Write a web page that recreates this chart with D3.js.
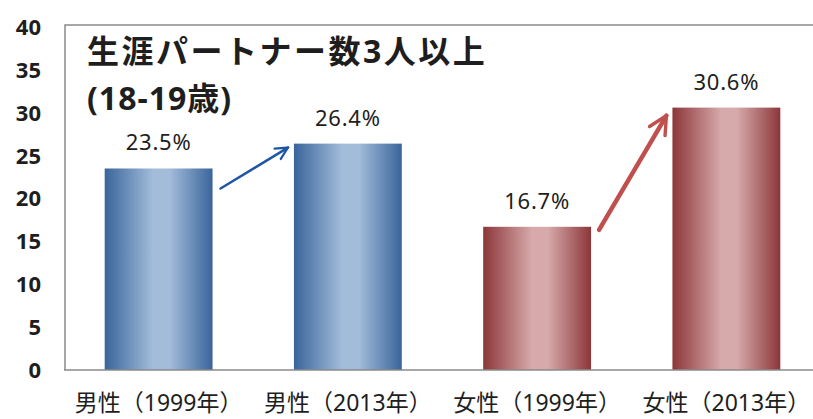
<!DOCTYPE html>
<html>
<head>
<meta charset="utf-8">
<script src="https://cdn.jsdelivr.net/npm/d3@7"></script>
<style>
  body { margin: 0; background: #fff; }
  text { font-family: "Noto Sans", "Noto Sans CJK JP", sans-serif; fill: #1e1e1e; }
</style>
</head>
<body>
<div id="chart"></div>
<script>
const categories = ["男性（1999年）", "男性（2013年）", "女性（1999年）", "女性（2013年）"];
const values = [23.5, 26.4, 16.7, 30.6];
const labels = ["23.5%", "26.4%", "16.7%", "30.6%"];
const groups = ["m", "m", "f", "f"];
const yTicks = [0, 5, 10, 15, 20, 25, 30, 35, 40];

const width = 813, height = 419;
const mLeft = 64, mRight = 821, mTop = 27, mBottom = 370;

const svg = d3.select("#chart")
  .append("svg")
  .attr("width", width)
  .attr("height", height);

const x = d3.scaleBand().domain(categories).range([mLeft, mRight]).paddingInner(0.43).paddingOuter(0.215);
const y = d3.scaleLinear().domain([0, 40]).range([mBottom, mTop]);

const defs = svg.append("defs");
const grads = { m: ["#3a659b", "#a3bcda"], f: ["#8c3639", "#d6a9aa"] };
for (let k in grads) {
  const g = defs.append("linearGradient").attr("id", "g" + k).attr("x1", 0).attr("x2", 1).attr("y1", 0).attr("y2", 0);
  g.append("stop").attr("offset", "0%").attr("stop-color", grads[k][0]);
  g.append("stop").attr("offset", "45%").attr("stop-color", grads[k][1]);
  g.append("stop").attr("offset", "60%").attr("stop-color", grads[k][1]);
  g.append("stop").attr("offset", "100%").attr("stop-color", grads[k][0]);
}
for (let k of ["m", "f"]) {
  defs.append("marker")
    .attr("id", "a" + k)
    .attr("viewBox", "0 0 10 10")
    .attr("refX", 9).attr("refY", 5)
    .attr("markerWidth", k == "m" ? 6 : 5).attr("markerHeight", k == "m" ? 6 : 5)
    .attr("orient", "auto")
    .append("path")
    .attr("d", "M1,1 L9,5 L1,9")
    .attr("fill", "none")
    .attr("stroke", k == "m" ? "#1f56a4" : "#c0504d")
    .attr("stroke-width", 1.5)
    .attr("stroke-linecap", "round");
}

// plot area frame
svg.append("path")
  .attr("d", `M${mLeft + 1},${mBottom} V${mTop - 2} H${width}`)
  .attr("fill", "none")
  .attr("stroke", "#8a8a8a")
  .attr("stroke-width", 1.5);

// y axis labels
svg.append("g")
  .selectAll("text")
  .data(yTicks)
  .join("text")
  .attr("x", 41)
  .attr("y", d => y(d))
  .attr("dy", "0.36em")
  .attr("text-anchor", "end")
  .attr("font-size", 22)
  .attr("font-weight", "bold")
  .text(d => d);

// bars
svg.append("g")
  .selectAll("rect")
  .data(values)
  .join("rect")
  .attr("x", (d, i) => x(categories[i]))
  .attr("width", x.bandwidth())
  .attr("y", d => y(d))
  .attr("height", d => y(0) - y(d))
  .attr("fill", (d, i) => `url(#g${groups[i]})`);

// axis line
svg.append("line")
  .attr("x1", mLeft).attr("x2", width)
  .attr("y1", mBottom).attr("y2", mBottom)
  .attr("stroke", "#8a8a8a").attr("stroke-width", 1.5);

// value labels
svg.append("g")
  .selectAll("text")
  .data(values)
  .join("text")
  .attr("x", (d, i) => x(categories[i]) + x.bandwidth() / 2)
  .attr("y", d => y(d) - 18)
  .attr("text-anchor", "middle")
  .attr("font-size", 22)
  .attr("letter-spacing", 0.8)
  .text((d, i) => labels[i]);

// category labels
svg.append("g")
  .selectAll("text")
  .data(categories)
  .join("text")
  .attr("x", d => x(d) + x.bandwidth() / 2)
  .attr("y", 411)
  .attr("text-anchor", "middle")
  .attr("font-size", 23)
  .attr("font-family", "'Noto Sans CJK JP', sans-serif")
  .text(d => d);

// title
svg.append("text")
  .attr("x", 87).attr("y", 63)
  .attr("font-size", 32).attr("font-weight", "bold")
  .attr("letter-spacing", 2.5)
  .attr("font-family", "'Noto Sans CJK JP', sans-serif")
  .text("生涯パートナー数3人以上");
svg.append("text")
  .attr("x", 87).attr("y", 110)
  .attr("font-size", 32).attr("font-weight", "bold")
  .attr("letter-spacing", 1)
  .attr("font-family", "'Noto Sans CJK JP', sans-serif")
  .text("(18-19歳)");

// arrows between bars
const arrows = [
  { from: 0, to: 1, g: "m", c: "#1f56a4", w: 2.5, dy1: 20, dy2: 4 },
  { from: 2, to: 3, g: "f", c: "#c0504d", w: 4.5, dy1: 3, dy2: 8 }
];
svg.append("g")
  .selectAll("line")
  .data(arrows)
  .join("line")
  .attr("x1", d => x(categories[d.from]) + x.bandwidth() + 8)
  .attr("y1", d => y(values[d.from]) + d.dy1)
  .attr("x2", d => x(categories[d.to]) - 6)
  .attr("y2", d => y(values[d.to]) + d.dy2)
  .attr("stroke", d => d.c)
  .attr("stroke-width", d => d.w)
  .attr("stroke-linecap", "round")
  .attr("marker-end", d => `url(#a${d.g})`);
</script>
</body>
</html>
